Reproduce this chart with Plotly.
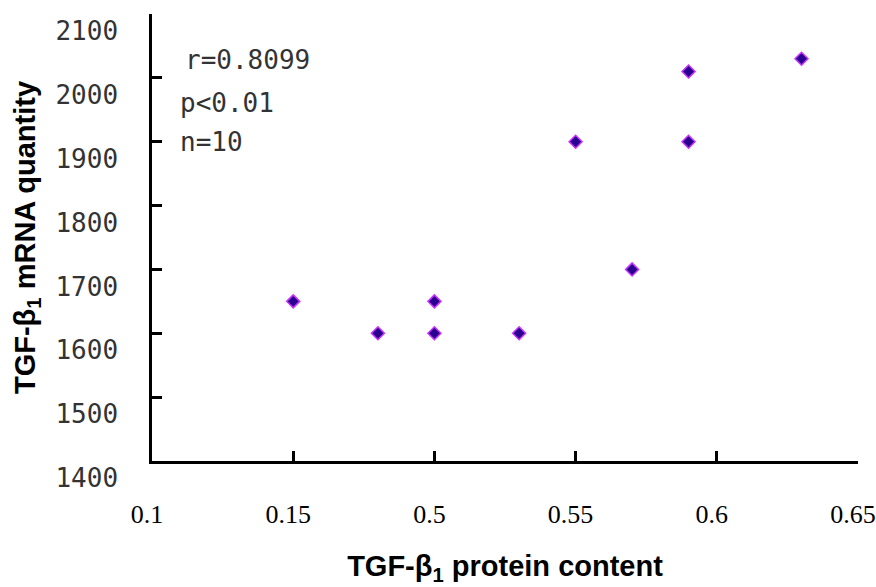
import plotly.graph_objects as go

# Data
protein = [0.45, 0.48, 0.50, 0.50, 0.53, 0.55, 0.57, 0.59, 0.59, 0.63]
mrna = [1650, 1600, 1650, 1600, 1600, 1900, 1700, 2010, 1900, 2030]

x_tickvals = [0.40, 0.45, 0.50, 0.55, 0.60, 0.65]
x_ticktext = ["0.1", "0.15", "0.5", "0.55", "0.6", "0.65"]
y_tickvals = [1400, 1500, 1600, 1700, 1800, 1900, 2000, 2100]
y_ticktext = ["1400", "1500", "1600", "1700", "1800", "1900", "2000", "2100"]

stats_lines = ["r=0.8099", "p&lt;0.01", "n=10"]

fig = go.Figure()
fig.add_trace(go.Scatter(
    x=protein, y=mrna, mode="markers",
    marker=dict(symbol="diamond", size=10, color="#2a0090",
                line=dict(color="#cc33ff", width=1.5)),
    showlegend=False,
))

fig.update_layout(
    width=876, height=587,
    margin=dict(l=152, r=18, t=14, b=126),
    paper_bgcolor="white", plot_bgcolor="white",
    font=dict(family="Liberation Sans", color="black"),
    xaxis=dict(
        range=[0.40, 0.65], tickvals=x_tickvals, ticktext=x_ticktext,
        showline=True, linecolor="black", linewidth=2.5,
        ticks="inside", ticklen=10, tickwidth=2.5, tickcolor="black",
        showgrid=False, zeroline=False, automargin=False,
        ticklabeloverflow="allow",
        tickfont=dict(family="Liberation Serif", size=26, color="black"),
        ticklabelstandoff=28, ticklabelshift=-5,
        title=dict(text="<b>TGF-β<sub>1</sub> protein content</b>",
                   font=dict(family="Liberation Sans", size=29, color="black"),
                   standoff=28),
    ),
    yaxis=dict(
        range=[1400, 2100], tickvals=y_tickvals, ticktext=y_ticktext,
        showline=True, linecolor="black", linewidth=2.5,
        ticks="inside", ticklen=10, tickwidth=2.5, tickcolor="black",
        showgrid=False, zeroline=False, automargin=False,
        ticklabeloverflow="allow",
        tickfont=dict(family="DejaVu Sans Mono", size=26, color="#333333"),
        ticklabelstandoff=26, ticklabelshift=17,
        title=dict(text="<b>TGF-β<sub>1</sub> mRNA quantity</b>",
                   font=dict(family="Liberation Sans", size=29, color="black"),
                   standoff=12),
    ),
)

ann_x = [183, 178, 178]
ann_y = [60, 103, 142]
for txt, px, py in zip(stats_lines, ann_x, ann_y):
    fig.add_annotation(
        text=txt, xref="paper", yref="paper",
        x=(px - 152) / 706, y=(461 - py) / 447,
        xanchor="left", yanchor="middle", showarrow=False,
        font=dict(family="DejaVu Sans Mono", size=26, color="#333333"),
    )

fig.write_html("out.html",
               config={"displayModeBar": False},
               post_script="document.body.style.margin='0';document.body.style.overflow='hidden';")
